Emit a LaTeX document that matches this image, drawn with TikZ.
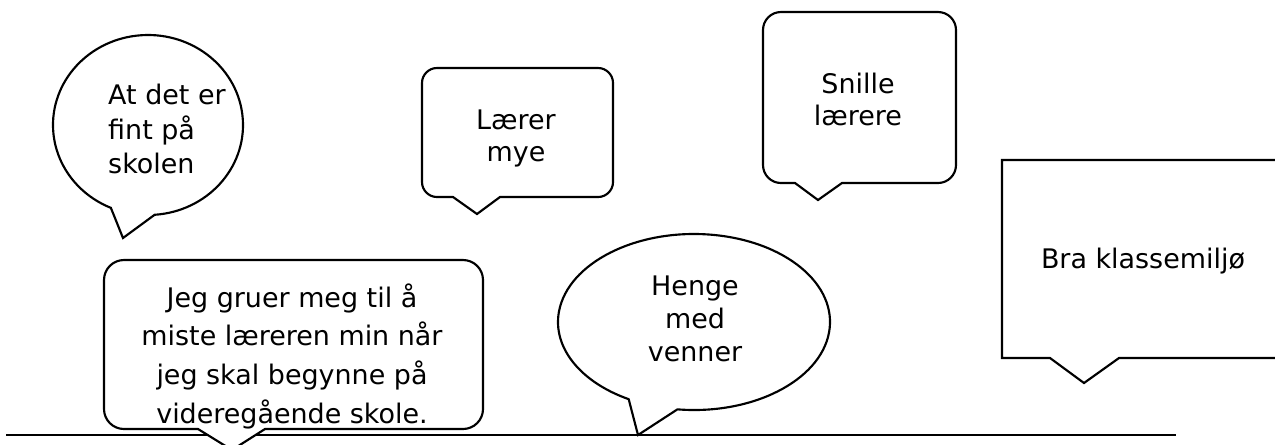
\documentclass[tikz,border=0pt]{standalone}
\usepackage{fontspec}
\setmainfont{DejaVu Sans}
\usetikzlibrary{calc}
\tikzstyle{bubble} = [draw, fill=white, line width=1.6pt, line join=miter]
\tikzstyle{words} = [align=center, inner sep=0pt, font=\fontsize{20.2}{24}\selectfont]
\tikzstyle{ground} = [line width=1.5pt]

\begin{document}
\begin{tikzpicture}[x=0.75pt, y=-0.75pt]
        \useasboundingbox (0,0) rectangle (1275,444);
        \clip (0,0) rectangle (1275,444);
        % the line along the bottom
        \coordinate (groundL) at (6,435);
        \coordinate (groundR) at (1176,435);
        \draw [ground] (groundL) -- (groundR);
        % oval bubbles
        \draw [bubble] (123,238) -- ($(148,125)+(86:95 and 90)$) arc [start angle=86, end angle=-247, x radius=95, y radius=90] -- cycle;
        \draw [bubble] (638,435) -- ($(694,322)+(97:136 and 88)$) arc [start angle=97, end angle=-241.3, x radius=136, y radius=88] -- cycle;
        % rounded bubbles
        \draw [bubble] (477,214) -- (453,197) -- (437,197) arc [start angle=90, end angle=180, radius=15] -- (422,83) arc [start angle=180, end angle=270, radius=15] -- (598,68) arc [start angle=270, end angle=360, radius=15] -- (613,182) arc [start angle=0, end angle=90, radius=15] -- (500,197) -- cycle;
        \draw [bubble] (818,200) -- (795,183) -- (781,183) arc [start angle=90, end angle=180, radius=18] -- (763,30) arc [start angle=180, end angle=270, radius=18] -- (938,12) arc [start angle=270, end angle=360, radius=18] -- (956,165) arc [start angle=0, end angle=90, radius=18] -- (842,183) -- cycle;
        \draw [bubble] (232,450) -- (198,429) -- (124,429) arc [start angle=90, end angle=180, radius=20] -- (104,280) arc [start angle=180, end angle=270, radius=20] -- (463,260) arc [start angle=270, end angle=360, radius=20] -- (483,409) arc [start angle=0, end angle=90, radius=20] -- (265,429) -- cycle;
        % square bubble
        \draw [bubble] (1084,383) -- (1050,358) -- (1002,358) -- (1002,160) -- (1290,160) -- (1290,358) -- (1119,358) -- cycle;
        % texts
        \node (fint) [words, align=left, font=\fontsize{20.2}{26}\selectfont] at (167,129) {At det er\\fint på\\skolen};
        \node (mye) [words] at (516,138) {Lærer\\mye};
        \node (snille) [words] at (858,99) {Snille\\lærere};
        \node (miljo) [words] at (1143,261) {Bra klassemiljø};
        \node (gruer) [words, font=\fontsize{20.2}{29}\selectfont] at (292,356) {Jeg gruer meg til å\\miste læreren min når\\jeg skal begynne på\\videregående skole.};
        \node (venner) [words, font=\fontsize{20.2}{24.5}\selectfont] at (695,319) {Henge\\med\\venner};
\end{tikzpicture}
\end{document}
